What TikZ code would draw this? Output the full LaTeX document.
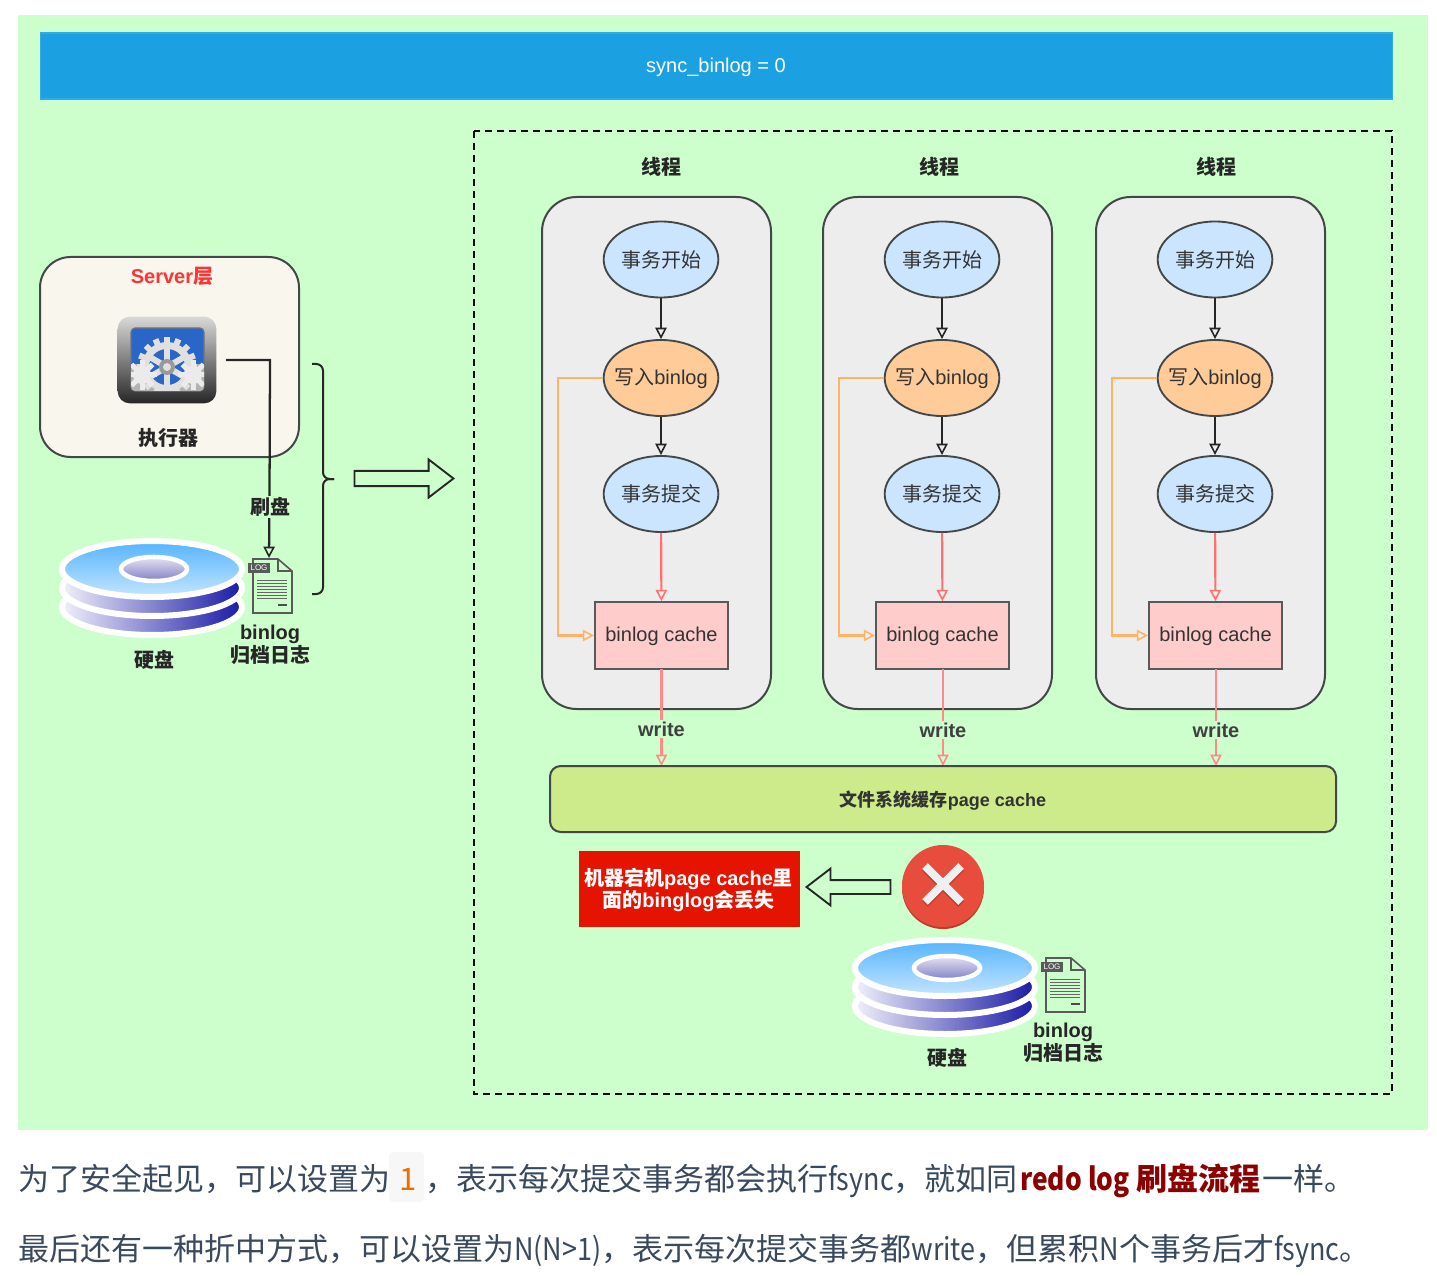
\documentclass[tikz,border=0pt]{standalone}
\usepackage{fontspec}
\setmainfont{Noto Sans CJK SC}
\newfontfamily\lib{Liberation Sans}
\newfontfamily\narrowlat[FakeStretch=0.87]{Noto Sans CJK SC}
\newfontfamily\narrowbold[FakeStretch=0.85]{Noto Sans CJK SC}
\usetikzlibrary{shapes.geometric,shapes.arrows,arrows.meta,calc}
\definecolor{pagegreen}{HTML}{CCFFCC}
\definecolor{barblue}{HTML}{1BA1E2}
\definecolor{edge}{HTML}{444748}
\definecolor{softred}{HTML}{FF7070}
\definecolor{softerred}{HTML}{FF8A8A}
\definecolor{softorange}{HTML}{FFB366}
\definecolor{prose}{HTML}{3A4A5E}
\definecolor{cream}{HTML}{F9F7ED}
\definecolor{limefill}{HTML}{CDEB8B}
\definecolor{alarm}{HTML}{E51400}
\definecolor{xred}{HTML}{E74C3C}
\definecolor{xdark}{HTML}{C0392B}
\definecolor{xwhite}{HTML}{ECF0F1}
\definecolor{bubbleblue}{HTML}{CCE5FF}
\definecolor{bubbleorange}{HTML}{FFCC99}
\definecolor{cachepink}{HTML}{FFCCCC}
\definecolor{diskdark}{HTML}{1A1AA6}
\definecolor{disklight}{HTML}{F0F0FA}
\definecolor{disktop}{HTML}{55B4FF}
\definecolor{diskbot}{HTML}{C5E5FF}
\definecolor{holetop}{HTML}{E6E2F2}
\definecolor{holebot}{HTML}{8080C4}
\definecolor{darkred}{HTML}{8B0000}
\definecolor{codeorange}{HTML}{F16A00}
\definecolor{screenblue}{HTML}{2A66C8}
\newcommand\fpx[1]{\pgfmathsetmacro\tmpfs{#1*0.75}\pgfmathsetmacro\tmpls{#1*0.86}\fontsize{\tmpfs pt}{\tmpls pt}\selectfont}
\newcommand\lb[1]{{\lib\bfseries #1}}
\newcommand\nl[1]{{\narrowlat #1}}
\tikzset{
  x=0.75pt,y=-0.75pt,
  lab/.style={font=\fpx{20}\bfseries,text=black!85,inner sep=1pt,align=center},
  panel/.style={draw=edge,line width=1.5pt,fill=black!7,rounded corners=26pt},
  bubble/.style={ellipse,draw=edge,line width=1.4pt,minimum width=86pt,minimum height=57pt,inner sep=0pt,font=\fpx{20},text=black!80},
  cachebox/.style={rectangle,draw=black!65,line width=1.5pt,fill=cachepink,minimum width=99.5pt,minimum height=50pt,inner sep=0pt},
  cachetext/.style={inner sep=0pt,font=\lib\fpx{20},text=black!80},
  hollowtip/.style={-{Triangle[open,length=8.5pt,width=8.5pt,line width=1.2pt]}},
  blackarr/.style={draw=black!85,line width=1.7pt,hollowtip},
  orangearr/.style={draw=softorange,line width=1.6pt,hollowtip},
  redarr/.style={draw=softred,line width=1.6pt,hollowtip},
  writeline/.style={draw=softerred,line width=2.1pt,hollowtip},
  wlabel/.style={lab,fill=pagegreen,text=black!75},
  blockarr/.style={single arrow,draw=black!85,line width=1.4pt,inner sep=0pt,single arrow head extend=8.6pt,single arrow tip angle=75},
  prosetext/.style={font=\fpx{31},text=prose,inner sep=0pt,anchor=base west},
  disk/.pic={
    \foreach \dy in {38,19}{
      \path[left color=disklight,right color=diskdark,draw=white,line width=4.5pt] (0,\dy) ellipse [x radius=90,y radius=28];
    }
    \path[top color=disktop,bottom color=diskbot,draw=white,line width=4.5pt] (0,0) ellipse [x radius=90,y radius=28];
    \path[top color=holetop,bottom color=holebot,draw=white,line width=3.4pt] (2,0) ellipse [x radius=33,y radius=12];
  },
  logfile/.pic={
    \path[fill=pagegreen,draw=black!65,line width=1.2pt] (-19,-27) -- (6,-27) -- (20,-15) -- (20,27) -- (-19,27) -- cycle;
    \draw[black!65,line width=1.2pt] (6,-27) -- (6,-15) -- (20,-15);
    \fill[black!65] (-24,-23) rectangle (-2,-13);
    \node[text=white,font=\lib\fpx{8},inner sep=0pt] at (-13,-18) {LOG};
    \foreach \yy in {-6,-3,0,3,6,9,12}{\draw[black!60,line width=0.7pt] (-15,\yy) -- (15,\yy);}
    \draw[black!70,line width=1pt] (6,19) -- (15,19);
  },
}
\begin{document}
\begin{tikzpicture}
\useasboundingbox (0,0) rectangle (1437,1276);
\fill[white] (0,0) rectangle (1437,1276);
\fill[pagegreen] (18,15) rectangle (1428,1130);
% top bar
\node[draw=barblue!90!white,line width=1pt,fill=barblue,minimum width=1014pt,minimum height=49.5pt,inner sep=0pt] (bar) at (716.5,66) {};
\node[text=white,font=\lib\fpx{20},inner sep=0pt] (bart) at (716,67) {sync\_binlog = 0};
% dashed frame
\draw[black,line width=1.8pt,dash pattern=on 5.5pt off 3.5pt] (474,131) rectangle (1392,1094);
% left: server
\draw[draw=edge,line width=1.5pt,fill=cream,rounded corners=23pt] (40,257) rectangle (299,457);
\node[font=\fpx{20}\bfseries,text=red!80!white,inner sep=0pt] (srv) at (172,276) {\lb{Server}层};
% gear icon
\node[rectangle,rounded corners=9pt,minimum width=74pt,minimum height=65pt,inner sep=0pt,top color=black!15,bottom color=black!85] (gear) at (167,360) {};
\fill[screenblue,rounded corners=3pt,draw=black!55,line width=0.8pt] (131,328) rectangle (204,391);
\begin{scope}
  \clip[rounded corners=3pt] (131,328) rectangle (204,391);
  \fill[black!30] (131,364) rectangle (204,391);
  \begin{scope}[shift={(167,367)}]
    \foreach \a in {0,22.5,...,337.5}{\fill[black!12,rotate=\a] (-3,-30) rectangle (3,-22);}
    \fill[black!12] (0,0) circle [radius=25];
    \fill[screenblue] (0,0) circle [radius=18];
    \foreach \a in {0,60,120,180,240,300}{\fill[black!12,rotate=\a] (-3,-19) rectangle (3,0);}
    \fill[black!40] (0,0) circle [radius=8];
    \fill[black!12] (0,0) circle [radius=4];
  \end{scope}
  \foreach \gx in {142,193}{
    \begin{scope}[shift={(\gx,375)}]
      \foreach \a in {0,45,...,135}{\fill[black!8,rotate=\a] (-2.5,-15) rectangle (2.5,15);}
      \fill[black!8] (0,0) circle [radius=9];
    \end{scope}
  }
\end{scope}
\node[lab] (exec) at (168,438) {执行器};
\pic at (152,569) {disk};
\node[lab] (diskLt) at (154,660) {硬盘};
\pic at (272,586) {logfile};
\coordinate (logtop) at (269,558);
\node[lab] (logL) at (270,644.5) {\lb{binlog}\\归档日志};
% flush connector
\coordinate (gearout) at (226,360);
\draw[blackarr] (gearout) -- (270,360) -- (269.5,500) -- (logtop);
\node[lab,fill=pagegreen] (flush) at (270,507) {刷盘};
% brace
\draw[black!85,line width=1.5pt,rounded corners=5pt] (312,364) -- (323,364) -- (323,479) -- (334,479);
\draw[black!85,line width=1.5pt,rounded corners=5pt] (334,479) -- (323,479) -- (323,594) -- (312,594);
% big arrow
\node[blockarr,minimum height=74.25pt] (bigarr) at (399,478.5) {\rule{0pt}{10pt}};
% thread columns
\foreach \id/\x/\bl/\br/\tx/\wy/\wx in {a/661/542/771/661/729/661.5,b/942/823/1052/939/730/943,c/1215/1096/1325/1216/730/1216}{
  \node[lab] (t\id) at (\tx,167) {线程};
  \draw[panel] (\bl,197) rectangle (\br,709);
  \node[bubble,fill=bubbleblue] (s\id) at (\x,259.5) {\makebox[0pt]{事务开始}};
  \node[bubble,fill=bubbleorange] (w\id) at (\x,378) {\makebox[0pt]{写入{\lib binlog}}};
  \node[bubble,fill=bubbleblue] (k\id) at (\x,494) {\makebox[0pt]{事务提交}};
  \node[cachebox] (m\id) at (\x+.5,635.5) {};
  \node[cachetext] (mt\id) at (\x+.5,636.5) {binlog cache};
  \draw[blackarr] (s\id) -- (w\id);
  \draw[blackarr] (w\id) -- (k\id);
  \draw[redarr] (k\id) -- (m\id);
  \draw[orangearr] (w\id.west) -- ($(w\id.west)+(-45,0)$) |- (m\id.west);
  \coordinate (g\id) at (\wx,766);
  \draw[writeline] (\wx,669) -- (g\id);
  \node[wlabel] (l\id) at (\wx,\wy) {\lb{write}};
}
% page cache
\draw[draw=edge,line width=1.5pt,fill=limefill,rounded corners=8pt] (550,766) rectangle (1336,832);
\node[font=\fpx{18}\bfseries,text=black!80,inner sep=0pt] (pc) at (943,801) {文件系统缓存\lb{page cache}};
% red box
\node[rectangle,fill=alarm,minimum width=166pt,minimum height=57pt,inner sep=0pt] (lost) at (689.5,889) {};
\node[inner sep=0pt,text=white,font=\fpx{20}\bfseries,align=center] (lostt) at (688.5,890) {机器宕机\lb{page cache}里\\面的\lb{binglog}会丢失};
% X
\fill[xdark] (943,888) circle [radius=41];
\node[circle,fill=xred,minimum size=61.5pt,inner sep=0pt] (x) at (943,886) {};
\draw[xdark,line width=6pt] (925,868) -- (961,904) (961,868) -- (925,904);
\draw[xwhite,line width=6pt] (925,866) -- (961,902) (961,866) -- (925,902);
\node[blockarr,minimum height=63pt,shape border rotate=180] (lostarr) at (853,887) {\rule{0pt}{9pt}};
% right disk
\pic at (945,968) {disk};
\pic at (1065,985) {logfile};
\node[lab] (diskRt) at (947,1058) {硬盘};
\node[lab] (logR) at (1063,1043) {\lb{binlog}\\归档日志};
% prose
\node[prosetext] (p1) at (18,1190) {为了安全起见，可以设置为};
\node[fill=black!3,rounded corners=3pt,minimum width=26pt,minimum height=37.5pt,inner sep=0pt] (onebox) at (406.5,1177) {};
\node[prosetext,text=codeorange] (p2) at (399,1190) {1};
\node[prosetext] (p3) at (425,1190) {，表示每次提交事务都会执行\nl{fsync}，就如同};
\node[prosetext,text=darkred,font=\fpx{31}\bfseries] (p4) at (1020,1190) {{\narrowbold redo log} 刷盘流程};
\node[prosetext] (p5) at (1262,1190) {一样。};
\node[prosetext] (p6) at (18,1260) {最后还有一种折中方式，可以设置为\nl{N(N>1)}，表示每次提交事务都\nl{write}，但累积\nl{N}个事务后才\nl{fsync}。};
\end{tikzpicture}
\end{document}
